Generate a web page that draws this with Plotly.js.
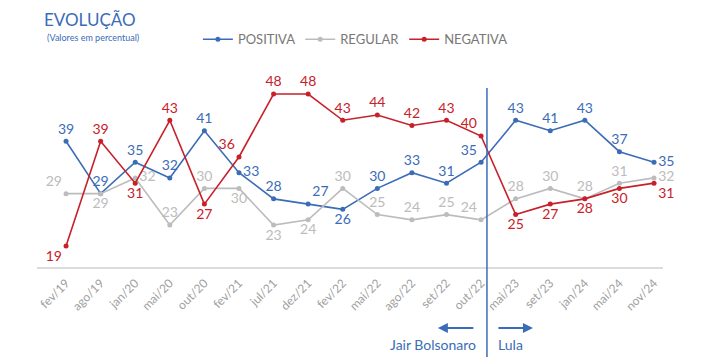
<!DOCTYPE html>
<html>
<head>
<meta charset="utf-8">
<script src="https://cdn.plot.ly/plotly-3.0.1.min.js"></script>
<style>html,body{margin:0;padding:0;background:#fff;}#chart{width:706px;height:364px;}</style>
</head>
<body>
<div id="chart"></div>
<script>
const categories = ["fev/19","ago/19","jan/20","mai/20","out/20","fev/21","jul/21","dez/21","fev/22","mai/22","ago/22","set/22","out/22","mai/23","set/23","jan/24","mai/24","nov/24"];
const positiva = [39,29,35,32,41,33,28,27,26,30,33,31,35,43,41,43,37,35];
const regular  = [29,29,32,23,30,30,23,24,30,25,24,25,24,28,30,28,31,32];
const negativa = [19,39,31,43,27,36,48,48,43,44,42,43,40,25,27,28,30,31];

const posPos = ["top center","top center","top center","top center","top center","middle right","top center","top right","bottom center","top center","top center","top center","top left","top center","top center","top center","top center","middle right"];
const regPos = ["top left","bottom center","middle right","top center","top center","bottom center","bottom center","bottom center","top center","top center","top center","top center","top left","top center","top center","top center","top center","middle right"];
const negPos = ["bottom left","top center","bottom center","top center","bottom center","top left","top center","top center","top center","top center","top center","top center","top left","bottom center","bottom center","bottom center","bottom center","bottom right"];

const FONT = "Lato, 'Open Sans', sans-serif";
const cPos = "#3b6cb7", cReg = "#bcbcbc", cNeg = "#c8202a";
const xIdx = categories.map((c,i)=>i);

function tr(name, vals, color, pos){
  return {
    type:"scatter", mode:"lines+markers+text", name:name,
    x:xIdx, y:vals, text:vals.map(String), textposition:pos,
    textfont:{family:FONT, size:14, color:color},
    line:{color:color, width:1.6}, marker:{color:color, size:5},
    cliponaxis:false, hoverinfo:"none"
  };
}

const data = [
  tr("POSITIVA", positiva, cPos, posPos),
  tr("REGULAR", regular, cReg, regPos),
  tr("NEGATIVA", negativa, cNeg, negPos)
];

const layout = {
  width:706, height:364,
  margin:{l:37, r:43, t:60, b:97},
  paper_bgcolor:"#fff", plot_bgcolor:"#fff",
  font:{family:FONT},
  showlegend:true,
  legend:{orientation:"h", x:0.257, xanchor:"left", y:1.10, yanchor:"middle",
    font:{family:FONT, size:13, color:"#777"}, itemwidth:30, tracegroupgap:0,
    bgcolor:"rgba(0,0,0,0)"},
  xaxis:{range:[-0.84,17.26], tickmode:"array", tickvals:xIdx, ticktext:categories,
    tickangle:-45, tickfont:{family:FONT, size:12, color:"#a0a0a0"},
    showline:true, linecolor:"#dcdcdc", linewidth:1.5, showgrid:false, zeroline:false,
    ticks:"outside", ticklen:3, tickcolor:"rgba(0,0,0,0)"},
  yaxis:{range:[15,54.5], visible:false, showgrid:false, zeroline:false},
  shapes:[{type:"line", xref:"x", yref:"paper", x0:12.17, x1:12.17, y0:-0.435, y1:0.865,
    line:{color:cPos, width:1.5}}],
  annotations:[
    {xref:"paper", yref:"paper", x:0.085, y:1.198, text:"EVOLUÇÃO", showarrow:false,
      font:{family:FONT, size:17, color:"#3b6cb7"}, xanchor:"center", yanchor:"middle"},
    {xref:"paper", yref:"paper", x:0.09, y:1.111, text:"(Valores em percentual)", showarrow:false,
      font:{family:FONT, size:9, color:"#3b6cb7"}, xanchor:"center", yanchor:"middle"},
    {xref:"x", yref:"paper", x:10.75, y:-0.295, ax:37, ay:0, text:"", showarrow:true,
      arrowhead:2, arrowsize:1, arrowwidth:2, arrowcolor:cPos},
    {xref:"x", yref:"paper", x:13.5, y:-0.295, ax:-36, ay:0, text:"", showarrow:true,
      arrowhead:2, arrowsize:1, arrowwidth:2, arrowcolor:cPos},
    {xref:"x", yref:"paper", x:11.92, y:-0.372, text:"Jair Bolsonaro", showarrow:false,
      xanchor:"right", yanchor:"middle", font:{family:FONT, size:14, color:cPos}},
    {xref:"x", yref:"paper", x:12.42, y:-0.372, text:"Lula", showarrow:false,
      xanchor:"left", yanchor:"middle", font:{family:FONT, size:14, color:cPos}}
  ]
};

Plotly.newPlot("chart", data, layout, {displayModeBar:false, staticPlot:true});
</script>
</body>
</html>
